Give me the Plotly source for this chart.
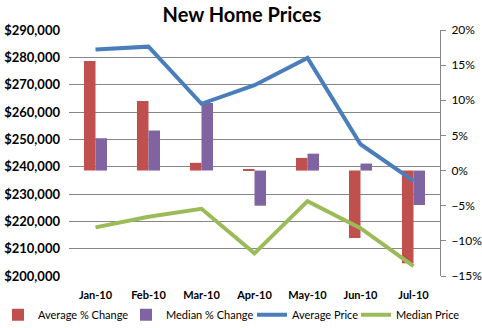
import plotly.graph_objects as go

categories = ["Jan-10", "Feb-10", "Mar-10", "Apr-10", "May-10", "Jun-10", "Jul-10"]
avg_pct_change = [0.156, 0.099, 0.011, 0.002, 0.018, -0.096, -0.132]
med_pct_change = [0.046, 0.057, 0.096, -0.050, 0.024, 0.010, -0.049]
avg_price = [282900, 283900, 263000, 269800, 279800, 248200, 234800]
med_price = [217800, 221700, 224600, 208300, 227400, 217500, 203600]

FONT = "Lato"
RED = "#C0504D"
PURPLE = "#8064A2"
BLUE = "#4A7EBB"
GREEN = "#9BBB59"
GRID = "#868686"

PLOT_L, PLOT_R = 69, 440
PW = PLOT_R - PLOT_L


def px_to_paper(px):
    return (px - PLOT_L) / PW


fig = go.Figure()
fig.add_trace(go.Bar(x=categories, y=avg_pct_change, name="Average % Change",
                     marker=dict(color=RED, line=dict(width=0)), yaxis="y", legend="legend"))
fig.add_trace(go.Bar(x=categories, y=med_pct_change, name="Median % Change",
                     marker=dict(color=PURPLE, line=dict(width=0)), yaxis="y", legend="legend2"))
fig.add_trace(go.Scatter(x=categories, y=avg_price, name="Average Price", mode="lines",
                         line=dict(color=BLUE, width=4), yaxis="y2", legend="legend3"))
fig.add_trace(go.Scatter(x=categories, y=med_price, name="Median Price", mode="lines",
                         line=dict(color=GREEN, width=4), yaxis="y2", legend="legend4"))

legend_text_starts = [40, 168, 294, 398]
LEG_Y = -0.158


def legend_cfg(text_x):
    return dict(orientation="h", x=px_to_paper(text_x - 42), xanchor="left", y=LEG_Y,
                yanchor="middle", font=dict(family=FONT, size=11), itemwidth=30,
                bgcolor="rgba(0,0,0,0)")


fig.update_layout(
    width=482, height=328,
    margin=dict(l=69, r=42, t=30, b=52, autoexpand=False),
    paper_bgcolor="white", plot_bgcolor="white",
    font=dict(family=FONT, color="#000000"),
    title=dict(text="<b>New Home Prices</b>", x=0.502, xanchor="center", y=0.955, yanchor="middle",
               font=dict(family=FONT, size=20, color="#000000")),
    barmode="group", bargap=0.565, bargroupgap=0,
    showlegend=True,
    legend=legend_cfg(legend_text_starts[0]),
    legend2=legend_cfg(legend_text_starts[1]),
    legend3=legend_cfg(legend_text_starts[2]),
    legend4=legend_cfg(legend_text_starts[3]),
    xaxis=dict(type="category", showgrid=False, showline=False, ticks="",
               tickfont=dict(family=FONT, size=11, weight="bold"),
               ticklabelstandoff=11),
    yaxis=dict(side="right", range=[-0.15, 0.20], dtick=0.05, tickformat=".0%",
               showgrid=False, zeroline=False, showline=True, linecolor=GRID, linewidth=1,
               ticks="outside", ticklen=5, tickcolor=GRID,
               tickfont=dict(family=FONT, size=12), ticklabelstandoff=3),
    yaxis2=dict(side="left", overlaying="y", range=[200000, 290000], dtick=10000,
                tickformat="$,.0f", showgrid=True, gridcolor=GRID, gridwidth=1,
                zeroline=False, showline=False, ticks="",
                tickfont=dict(family=FONT, size=13, weight="bold"), ticklabelstandoff=8),
)

fig.write_html("out.html")
